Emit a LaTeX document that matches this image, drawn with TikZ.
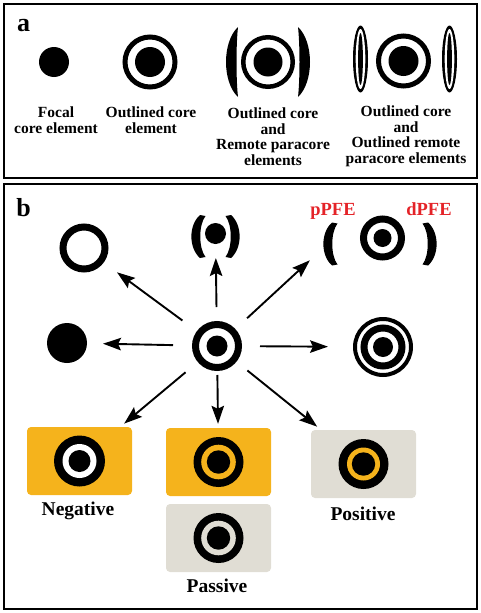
\documentclass[tikz,border=0pt]{standalone}
\usepackage{fontspec}
\setmainfont{Liberation Serif}
\usetikzlibrary{arrows.meta}
\definecolor{amber}{RGB}{245,179,28}
\definecolor{stone}{RGB}{224,221,212}
\definecolor{pfered}{RGB}{228,35,40}
% bullseye: centre, outer radius, inner radius, dot radius, gap colour
\newcommand{\bullseye}[5]{%
  \fill (#1) circle (#2pt);
  \fill[#5] (#1) circle (#3pt);
  \fill (#1) circle (#4pt);}
% paracore bracket: centre, xscale (1 = left, -1 = right)
\newcommand{\paracore}[2]{%
  \fill[shift={(#1)}, xscale=#2] (4.5,-21.5) .. controls (-7,-11.5) and (-7,11.5) .. (4.5,21.5)
    -- (10,20.5) .. controls (3,11.5) and (3,-11.5) .. (10,-20.5) -- cycle;}
% remote paracore lens: centre, xscale
\newcommand{\remote}[2]{%
  \fill[shift={(#1)}, xscale=#2] (0,-35) .. controls (-16,-20) and (-16,20) .. (0,35)
    .. controls (-2,17) and (-2,-17) .. (0,-35) -- cycle;}
\begin{document}
\begin{tikzpicture}[
    x=1pt, y=-1pt,
    panel/.style={draw, line width=2pt},
    arr/.style={-{Stealth[length=18pt,width=12.5pt,inset=3pt]}, line width=1.9pt},
    caption/.style={font=\fontsize{15.5}{15.5}\selectfont\bfseries, align=center, anchor=north, inner sep=0pt},
    state/.style={font=\fontsize{19.5}{20}\selectfont\bfseries, anchor=base, inner sep=0pt},
    tag/.style={state, font=\fontsize{18.5}{20}\selectfont\bfseries, text=pfered},
    letter/.style={font=\fontsize{26}{26}\selectfont\bfseries, anchor=base, inner sep=0pt},
    tile/.style={rectangle, rounded corners=4pt, minimum width=105pt, minimum height=68pt, inner sep=0pt}
    ]
    \useasboundingbox (0,0) rectangle (480,613);

    % panels
    \draw[panel] (3.5,3.5) rectangle (476.5,177.5);
    \draw[panel] (3.5,184) rectangle (476.5,609);
    \node[letter] (la) at (23.5,31) {a};
    \node[letter] (lb) at (23.5,216.5) {b};

    % panel a: element centres
    \coordinate (focal) at (54,62);
    \coordinate (outl) at (150,62);
    \coordinate (remo) at (268,62);
    \coordinate (outrem) at (403.5,61);
    \coordinate (reml) at (238,62);
    \coordinate (remr) at (298,62);

    % panel a: elements
    \fill (focal) circle (15pt);
    \draw[line width=5pt] (outl) circle (25pt);
    \fill (outl) circle (15pt);
    \draw[line width=4.5pt] (remo) circle (24.75pt);
    \fill (remo) circle (14.5pt);
    \remote{reml}{1}
    \remote{remr}{-1}
    \draw[line width=5pt] (outrem) circle (25pt);
    \fill (outrem) circle (15pt);
    \foreach \ex in {360.5,449.5}{
      \fill (\ex,59) ellipse [x radius=7.5pt, y radius=33.5pt];
      \fill[white] (\ex,59) ellipse [x radius=4.8pt, y radius=30pt];
      \fill (\ex,59) ellipse [x radius=2.4pt, y radius=26pt];
    }

    % panel a: captions
    \node[caption] (cfocal) at (56,107) {Focal\\core element};
    \node[caption] (coutl) at (151,107) {Outlined core\\element};
    \node[caption] (cremo) at (273,108) {Outlined core\\and\\Remote paracore\\elements};
    \node[caption] (coutrem) at (406,106) {Outlined core\\and\\Outlined remote\\paracore elements};

    % panel b: element centres
    \coordinate (core) at (217,346);
    \coordinate (open) at (84,248);
    \coordinate (topdot) at (215.5,233.5);
    \coordinate (brl) at (195.5,236.5);
    \coordinate (brr) at (235.5,236.5);
    \coordinate (pfe) at (382.5,238);
    \coordinate (ppl) at (327.5,244);
    \coordinate (dpl) at (432.5,244);
    \coordinate (dot) at (67,343);
    \coordinate (triple) at (383,347);

    % panel b: tiles
    \node[tile, fill=amber] (neg) at (79.5,461) {};
    \node[tile, fill=amber] (pasA) at (218.5,462) {};
    \node[tile, fill=stone] (pasB) at (218.5,538) {};
    \node[tile, fill=stone] (pos) at (363.5,464) {};

    % panel b: elements
    \draw[line width=7pt] (core) circle (21.5pt);
    \fill (core) circle (10.5pt);
    \draw[line width=7pt] (open) circle (21pt);
    \fill (topdot) circle (10.5pt);
    \paracore{brl}{1}
    \paracore{brr}{-1}
    \draw[line width=7pt] (pfe) circle (19pt);
    \fill (pfe) circle (9pt);
    \paracore{ppl}{1}
    \paracore{dpl}{-1}
    \fill (dot) circle (20pt);
    \draw[line width=4pt] (triple) circle (28pt);
    \draw[line width=7pt] (triple) circle (19pt);
    \fill (triple) circle (10pt);
    \bullseye{neg}{25.5}{17}{11}{white}
    \bullseye{pasA}{25}{17.3}{11.7}{amber}
    \bullseye{pasB}{25}{17.3}{11.7}{stone}
    \bullseye{pos}{25}{16.5}{11.7}{amber}

    % panel b: labels
    \node[tag] (tppfe) at (333,215) {pPFE};
    \node[tag] (tdpfe) at (429,215) {dPFE};
    \node[state] (tneg) at (78,515) {Negative};
    \node[state] (tpas) at (217,592) {Passive};
    \node[state] (tpos) at (363,520) {Positive};

    % panel b: arrows
    \draw[arr, shorten <=44pt, shorten >=36pt] (core) -- (dot);
    \draw[arr, shorten <=43pt, shorten >=55pt] (core) -- (triple);
    \draw[arr, shorten <=39pt, shorten >=24.5pt] (core) -- (topdot);
    \draw[arr, shorten <=43pt, shorten >=41pt] (core) -- (open);
    \draw[arr, shorten <=41pt, shorten >=24pt] (core) -- (ppl);
    \draw[arr, shorten <=41pt, shorten >=5pt] (core) -- (neg);
    \draw[arr, shorten <=29pt, shorten >=4pt] (core) -- (pasA);
    \draw[arr, shorten <=39pt, shorten >=5pt] (core) -- (pos);
\end{tikzpicture}
\end{document}
